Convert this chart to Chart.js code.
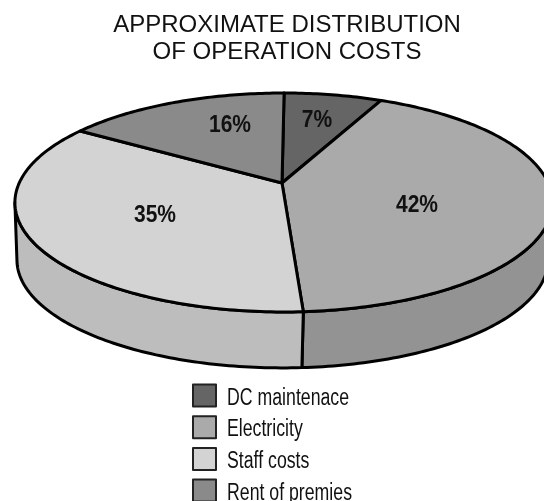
<!DOCTYPE html>
<html lang="en">
<head>
    <meta charset="UTF-8">
    <title>Operation costs</title>
    <script src="https://cdn.jsdelivr.net/npm/chart.js"></script>
    <style>
        html, body { margin: 0; padding: 0; background: #fff; overflow: hidden; }
        canvas { display: block; }
    </style>
</head>
<body>
    <canvas id="costChart" width="544" height="501"></canvas>

    <script>
        const titleLines = ['APPROXIMATE DISTRIBUTION', 'OF OPERATION COSTS'];
        const categories = ['DC maintenace', 'Electricity', 'Staff costs', 'Rent of premies'];
        const shares = [7, 42, 35, 16];
        const topColors = ['#656565', '#aaaaaa', '#d3d3d3', '#8a8a8a'];
        const sideColors = ['#4f4f4f', '#939393', '#bdbdbd', '#707070'];

        // perspective of the disc: hub in pixels, radii, tilt and rim depth
        const hub = { x: 282, y: 183 };
        const radius = { x: 264.5, y: 106 };
        const tilt = -0.178;
        const upperRim = { drop: 0, scale: 1, shift: 1.7 };
        const lowerRim = { drop: 57.5, scale: 0.988, shift: 0.5 };

        // where the percent labels sit
        const labelSpots = [[317, 120], [417, 205], [155, 215], [230, 125]];

        function project(angle, rim) {
            const u = Math.cos(angle), v = Math.sin(angle);
            const w = 1 + tilt * v;
            return {
                x: hub.x + rim.shift + rim.scale * radius.x * u / w,
                y: hub.y + rim.drop + rim.scale * radius.y * v / w
            };
        }

        function rimPoints(start, end, rim) {
            const pts = [];
            const steps = Math.max(2, Math.ceil((end - start) * 60));
            for (let i = 0; i <= steps; i++) {
                pts.push(project(start + (end - start) * i / steps, rim));
            }
            return pts;
        }

        function tracePath(ctx, pts, join) {
            pts.forEach((p, i) => (i || join) ? ctx.lineTo(p.x, p.y) : ctx.moveTo(p.x, p.y));
        }

        // the narrow Helvetica of the original is not installed, so squeeze the text
        function squeezedText(ctx, text, x, y, squeeze) {
            ctx.save();
            ctx.translate(x, y);
            ctx.scale(squeeze, 1);
            ctx.fillText(text, 0, 0);
            ctx.restore();
        }

        const discPlugin = {
            id: 'disc',
            beforeDatasetsDraw(chart) {
                const ctx = chart.ctx;
                const arcs = chart.getDatasetMeta(0).data;
                ctx.save();
                ctx.lineWidth = 3;
                ctx.lineJoin = 'round';
                ctx.strokeStyle = '#000';

                // front wall, only the part of the rim facing the viewer
                const frontStart = 0.18, frontEnd = Math.PI - 0.18;
                arcs.forEach((arc, i) => {
                    for (const shift of [0, Math.PI * 2]) {
                        const a = Math.max(arc.startAngle + shift, frontStart);
                        const b = Math.min(arc.endAngle + shift, frontEnd);
                        if (b <= a) continue;
                        ctx.beginPath();
                        tracePath(ctx, rimPoints(a, b, upperRim).concat(rimPoints(a, b, lowerRim).reverse()));
                        ctx.closePath();
                        ctx.fillStyle = sideColors[i];
                        ctx.fill();
                        ctx.stroke();
                    }
                });

                // top face
                arcs.forEach((arc, i) => {
                    ctx.beginPath();
                    ctx.moveTo(hub.x, hub.y);
                    tracePath(ctx, rimPoints(arc.startAngle, arc.endAngle, upperRim), true);
                    ctx.closePath();
                    ctx.fillStyle = topColors[i];
                    ctx.fill();
                    ctx.stroke();
                });

                // percent labels
                ctx.fillStyle = '#111';
                ctx.font = 'bold 24px "Liberation Sans"';
                ctx.textAlign = 'center';
                ctx.textBaseline = 'middle';
                shares.forEach((s, i) => squeezedText(ctx, s + '%', labelSpots[i][0], labelSpots[i][1], 0.875));

                // legend
                ctx.textAlign = 'left';
                ctx.textBaseline = 'alphabetic';
                ctx.font = '23px "Liberation Sans"';
                ctx.lineWidth = 2;
                categories.forEach((name, i) => {
                    const top = 384.5 + i * 31.7;
                    ctx.fillStyle = topColors[i];
                    ctx.strokeStyle = '#222';
                    ctx.fillRect(193, top, 23, 22);
                    ctx.strokeRect(193, top, 23, 22);
                    ctx.fillStyle = '#111';
                    squeezedText(ctx, name, 227, top + 20, 0.77);
                });
                ctx.restore();
                return false;
            }
        };

        new Chart(document.getElementById('costChart').getContext('2d'), {
            type: 'pie',
            data: {
                labels: categories,
                datasets: [{ data: shares, backgroundColor: topColors, borderColor: '#000' }]
            },
            options: {
                responsive: false,
                animation: false,
                rotation: 0.1,
                layout: { padding: { left: 30 } },
                plugins: {
                    legend: { display: false },
                    tooltip: { enabled: false },
                    title: {
                        display: true,
                        text: titleLines,
                        color: '#111',
                        font: { family: '"Liberation Sans"', size: 24, weight: 'normal', lineHeight: 1.125 },
                        padding: { top: 12, bottom: 0 }
                    }
                }
            },
            plugins: [discPlugin]
        });
    </script>
</body>
</html>
